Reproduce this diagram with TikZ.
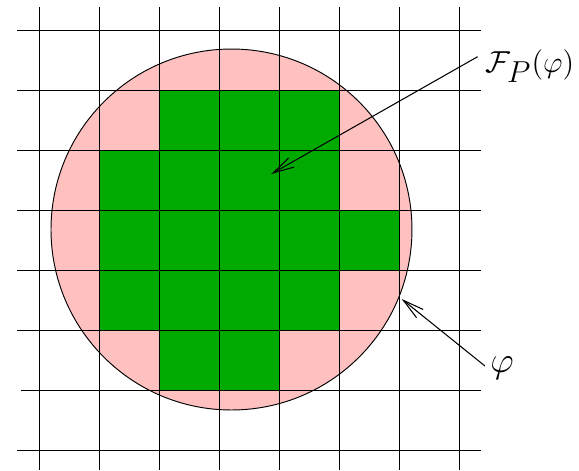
\documentclass[tikz,border=0pt]{standalone}
\usetikzlibrary{arrows.meta}
\definecolor{cellpink}{RGB}{255,192,192}
\definecolor{cellgreen}{RGB}{0,170,0}
\tikzset{
  gridline/.style={line width=0.45pt, black},
  pointer/.style={line width=0.5pt, -{Straight Barb[length=10pt,width=5pt]}},
  lbl/.style={anchor=west, inner sep=0pt, font=\fontsize{15.5}{18}\selectfont}
}
\begin{document}
\begin{tikzpicture}[x=1cm,y=1cm]
\useasboundingbox (-0.65,-0.3333) rectangle (9.0,7.5);
% disk
\fill[cellpink] (3.208,3.675) circle (3.008);
% green cells
\fill[cellgreen] (2,5) rectangle (5,6);
\fill[cellgreen] (1,4) rectangle (5,5);
\fill[cellgreen] (1,3) rectangle (6,4);
\fill[cellgreen] (1,2) rectangle (5,3);
\fill[cellgreen] (2,1) rectangle (4,2);
% grid
\foreach \i in {0,...,7} {
  \draw[gridline] (\i,7.383) -- (\i,-0.3333);
}
\foreach \i in {0,2,3,4,5,6,7} {
  \draw[gridline] (-0.367,\i) -- (7.367,\i);
}
\draw[gridline] (-0.3,1) -- (7.367,1);
% circle outline
\draw[line width=0.45pt] (3.208,3.675) circle (3.008);
% labels
\node[lbl] (F) at (7.433,6.4) {$\mathcal{F}_{\textstyle P}(\varphi)$};
\node[lbl] (phi) at (7.517,1.367) {\fontsize{17.28}{20}\selectfont$\varphi$};
\coordinate (Fstart) at (7.31,6.555);
\coordinate (Ftip) at (3.87,4.6);
\coordinate (phistart) at (7.433,1.4);
\coordinate (phitip) at (6.045,2.517);
\draw[pointer] (Fstart) -- (Ftip);
\draw[pointer] (phistart) -- (phitip);
\end{tikzpicture}
\end{document}
